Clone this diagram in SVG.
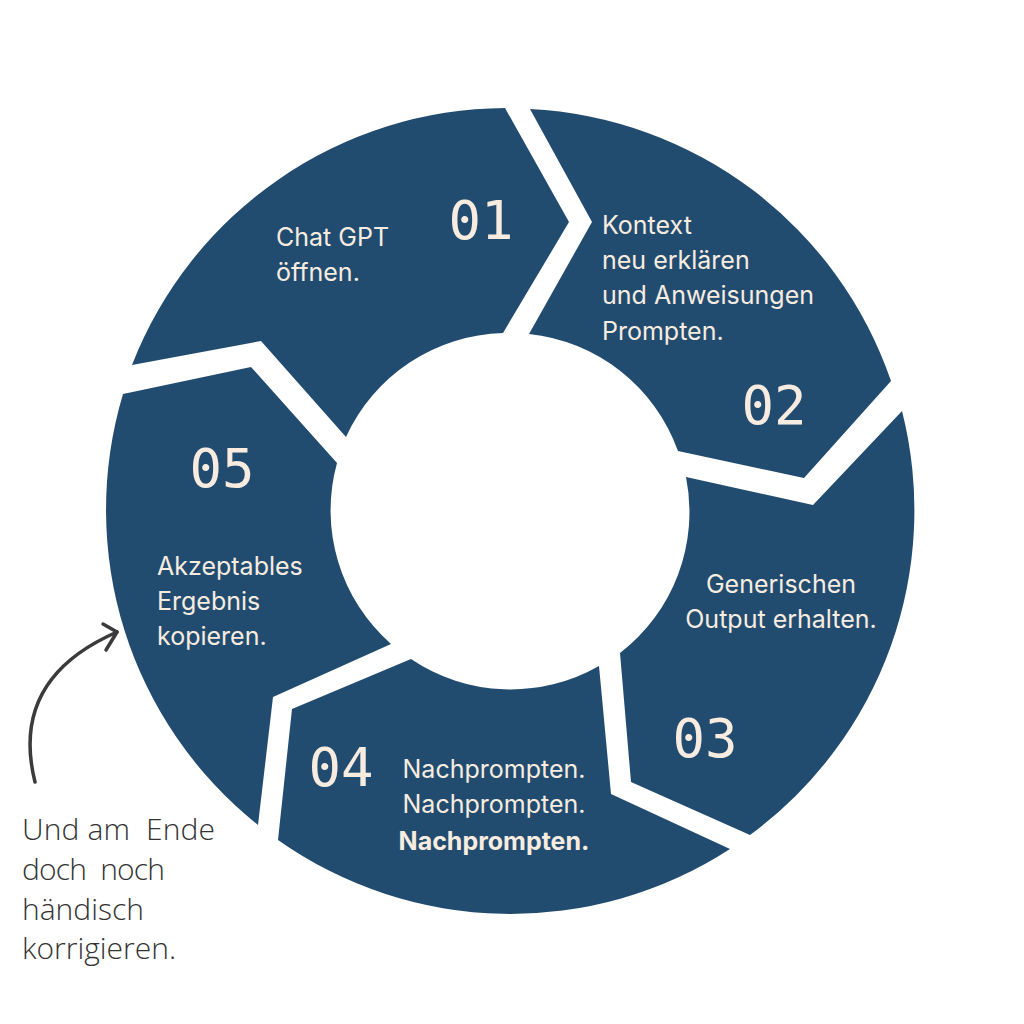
<svg xmlns="http://www.w3.org/2000/svg" width="1024" height="1024" viewBox="0 0 1024 1024">
<style>
.seg{fill:#224c6f}
.lbl{font-family:Inter,"Noto Sans","Liberation Sans",sans-serif;font-size:25px;fill:#f8ece0}
.num{font-family:"DejaVu Sans Mono","Liberation Mono",monospace;font-size:54px;fill:#f8ece0;text-anchor:middle}
.hand{font-family:"Open Sans","Liberation Sans",sans-serif;font-weight:300;font-size:30px;fill:#333333;white-space:pre}
.conn{fill:none;stroke:#3b3b3b;stroke-width:3.5;stroke-linecap:round;stroke-linejoin:round}
</style>
<rect width="1024" height="1024" fill="#ffffff"/>
<g id="step1">
<path class="seg" d="M132,365 A403,403 0 0 1 505,108 L569,222 L503,333 A178,178 0 0 0 346,437 L261,341 Z"/>
<text class="num" x="481" y="239">01</text>
<text class="lbl" x="276" y="246">Chat GPT</text>
<text class="lbl" x="276" y="281">öffnen.</text>
</g>
<g id="step2">
<path class="seg" d="M530,109 A403,403 0 0 1 891,381 L804,478 L678,451 A178,178 0 0 0 529,334 L592,222 Z"/>
<text class="num" x="774" y="424">02</text>
<text class="lbl" x="602" y="234">Kontext</text>
<text class="lbl" x="602" y="269">neu erklären</text>
<text class="lbl" x="602" y="304">und Anweisungen</text>
<text class="lbl" x="602" y="340">Prompten.</text>
</g>
<g id="step3">
<path class="seg" d="M902,411 A403,403 0 0 1 750,835 L631,782 L620,653 A178,178 0 0 0 686,477 L813,505 Z"/>
<text class="num" x="705" y="757">03</text>
<text class="lbl" x="781" y="593" text-anchor="middle">Generischen</text>
<text class="lbl" x="781" y="628" text-anchor="middle">Output erhalten.</text>
</g>
<g id="step4">
<path class="seg" d="M730,849 A403,403 0 0 1 278,840 L292,709 L411,659 A178,178 0 0 0 599,666 L611,794 Z"/>
<text class="num" x="341" y="786">04</text>
<text class="lbl" x="494" y="778" text-anchor="middle">Nachprompten.</text>
<text class="lbl" x="494" y="813" text-anchor="middle">Nachprompten.</text>
<text class="lbl" x="494" y="850" text-anchor="middle" font-weight="700">Nachprompten.</text>
</g>
<g id="step5">
<path class="seg" d="M258,825 A403,403 0 0 1 123,394 L251,367 L337,463 A178,178 0 0 0 391,644 L273,697 Z"/>
<text class="num" x="222" y="487">05</text>
<text class="lbl" x="157" y="575">Akzeptables</text>
<text class="lbl" x="157" y="610">Ergebnis</text>
<text class="lbl" x="157" y="645">kopieren.</text>
</g>
<g id="note">
<text class="hand" x="22" y="840" textLength="193" lengthAdjust="spacing">Und am  Ende</text>
<text class="hand" x="22" y="880" textLength="143" lengthAdjust="spacing">doch  noch</text>
<text class="hand" x="22" y="920">händisch</text>
<text class="hand" x="22" y="959">korrigieren.</text>
</g>
<g id="connectors">
<path class="conn" d="M35,782 C22,730 30,670 117,632"/>
<polyline class="conn" points="103,624 117,632 106,650"/>
</g>
</svg>
